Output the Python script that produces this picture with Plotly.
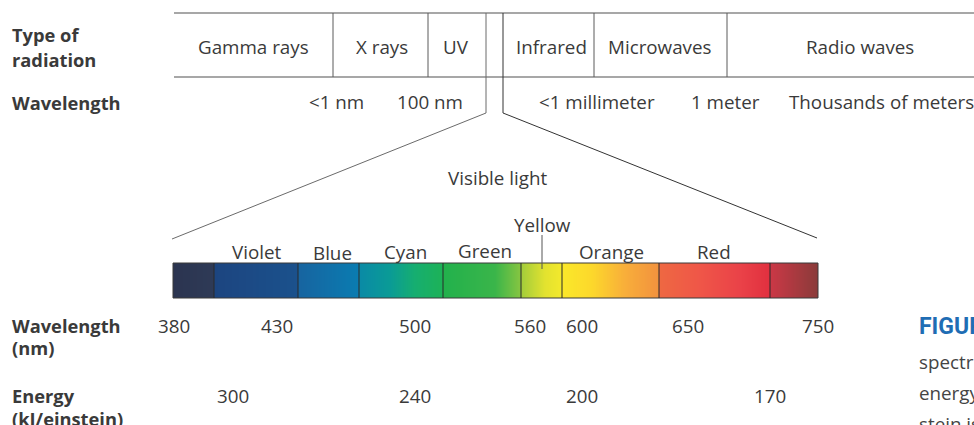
import numpy as np
import plotly.graph_objects as go

# ---------------- data ----------------
radiation_types = ["Gamma rays", "X rays", "UV", "Infrared", "Microwaves", "Radio waves"]
wavelength_labels = ["<1 nm", "100 nm", "<1 millimeter", "1 meter", "Thousands of meters"]
visible_colors = ["Violet", "Blue", "Cyan", "Green", "Yellow", "Orange", "Red"]
nm_ticks = [380, 430, 500, 560, 600, 650, 750]
energy_ticks = [300, 240, 200, 170]

# ---------------- layout (pixel canvas) ----------------
W, H = 974, 425
type_x = [253, 382, 456, 551, 660, 860]
band_dividers = [333, 428, 594, 727]
wl_x = [336, 430, 597, 725, 881]
color_x = [257, 332, 405, 485, 542, 611, 714]
color_y = [251, 252.5, 251, 250, 224, 251, 251]
nm_x = [174, 277, 415, 530, 582, 688, 818]
energy_x = [233, 415, 582, 770]
bar_left, bar_right, bar_top, bar_bot = 173, 818, 263, 298
bar_dividers = [214, 298, 359, 443, 521, 562, 659, 770]

TXT = "#3a3a3a"
FS = 18.8
FSB = 18.3
DY = 0.5  # vertical tweak for text middle

# gradient stops (pixel, colour) for the visible strip
stops = [
    (173, "#2b3450"), (213.6, "#2e3a56"),
    (214.4, "#1c4580"), (297.6, "#1b518c"),
    (298.4, "#1764a0"), (358.6, "#0a7cb1"),
    (359.4, "#0a8aa6"), (390, "#0a9b96"), (415, "#16ae70"), (442.6, "#1db257"),
    (443.4, "#22b14c"), (495, "#3ab54a"), (520.6, "#86c541"),
    (521.4, "#a2cd3b"), (545, "#e2e22f"), (561.6, "#f3e92c"),
    (562.4, "#fbe82a"), (592, "#fcd82b"), (625, "#f8ae3a"), (658.6, "#f2923e"),
    (659.4, "#ee6842"), (700, "#ef5648"), (740, "#ea4248"), (769.6, "#e1303f"),
    (770.4, "#cb3846"), (818, "#8a3b3a"),
]
cs = [[(p - bar_left) / (bar_right - bar_left), c] for p, c in stops]

fig = go.Figure()

xs = np.arange(bar_left, bar_right + 1, 1.0)
centers = (xs[:-1] + xs[1:]) / 2
fig.add_trace(go.Heatmap(
    x=xs, y=[bar_top, bar_bot], z=[centers],
    colorscale=cs, zmin=bar_left, zmax=bar_right,
    showscale=False, hoverinfo="skip", zsmooth=False,
))

shapes = []
LINE_GREY = "#8a8a8a"
# top band horizontal lines
for yy in (13, 77):
    shapes.append(dict(type="line", x0=174, x1=974, y0=yy, y1=yy,
                       line=dict(color=LINE_GREY, width=1.5)))
for bx in band_dividers:
    shapes.append(dict(type="line", x0=bx, x1=bx, y0=13, y1=77,
                       line=dict(color="#5a5a5a", width=1)))
# visible-light slot and the funnel lines
shapes.append(dict(type="path", path="M 486,13 L 486,113 L 172,239",
                   line=dict(color="#6a6a6a", width=1)))
shapes.append(dict(type="path", path="M 503,13 L 503,113 L 817,238",
                   line=dict(color="#333333", width=1)))
# bar outline & dividers
shapes.append(dict(type="rect", x0=bar_left, x1=bar_right, y0=bar_top, y1=bar_bot,
                   line=dict(color="#3a3a3a", width=1)))
for bx in bar_dividers:
    shapes.append(dict(type="line", x0=bx, x1=bx, y0=bar_top, y1=bar_bot,
                       line=dict(color="#2a2a2a", width=1)))
# yellow pointer
shapes.append(dict(type="line", x0=542, x1=542, y0=235, y1=269,
                   line=dict(color="#555555", width=1)))

ann = []


def txt(x, y, s, size=FS, bold=False, anchor="center", color=TXT, family=None):
    t = f"<b>{s}</b>" if bold else s
    d = dict(x=x, y=y + DY, text=t, showarrow=False, xanchor=anchor, yanchor="middle",
             font=dict(size=size, color=color), xref="x", yref="y")
    if family:
        d["font"]["family"] = family
    ann.append(d)


# left bold labels
txt(10, 34, "Type of", size=FSB, bold=True, anchor="left")
txt(10, 58.5, "radiation", size=FSB, bold=True, anchor="left")
txt(10, 101.5, "Wavelength", size=FSB, bold=True, anchor="left")
txt(10, 325, "Wavelength", size=FSB, bold=True, anchor="left")
txt(10, 346.5, "(nm)", size=FSB, bold=True, anchor="left")
txt(10, 395, "Energy", size=FSB, bold=True, anchor="left")
txt(10, 417.5, "(kJ/einstein)", size=FSB, bold=True, anchor="left")

for x, s in zip(type_x, radiation_types):
    txt(x, 46.5, s)
for x, s in zip(wl_x, wavelength_labels):
    txt(x, 101.5, s.replace("<", "&lt;"))
txt(497, 177.5, "Visible light")
for x, y, s in zip(color_x, color_y, visible_colors):
    txt(x, y, s)
for x, v in zip(nm_x, nm_ticks):
    txt(x, 325, str(v))
for x, v in zip(energy_x, energy_ticks):
    txt(x, 395, str(v))

# cut-off caption at the right edge
txt(917, 326, "<b>FIGURE</b>", size=23, anchor="left", color="#1f6db4",
    family="Liberation Sans Narrow, Roboto, sans-serif")
txt(917, 361.5, "spectrum", anchor="left", color="#444444")
txt(917, 392.5, "energy", anchor="left", color="#444444")
txt(917, 423.5, "stein is", anchor="left", color="#444444")

fig.update_layout(
    width=W, height=H, autosize=False,
    margin=dict(l=0, r=0, t=0, b=0, pad=0),
    paper_bgcolor="white", plot_bgcolor="white",
    font=dict(family="Open Sans, sans-serif", size=FS, color=TXT),
    xaxis=dict(range=[0, W], visible=False, fixedrange=True),
    yaxis=dict(range=[H, 0], visible=False, fixedrange=True),
    shapes=shapes, annotations=ann, showlegend=False,
)

fig.write_html("out.html", post_script="document.body.style.margin='0';",
               config={"displayModeBar": False})
